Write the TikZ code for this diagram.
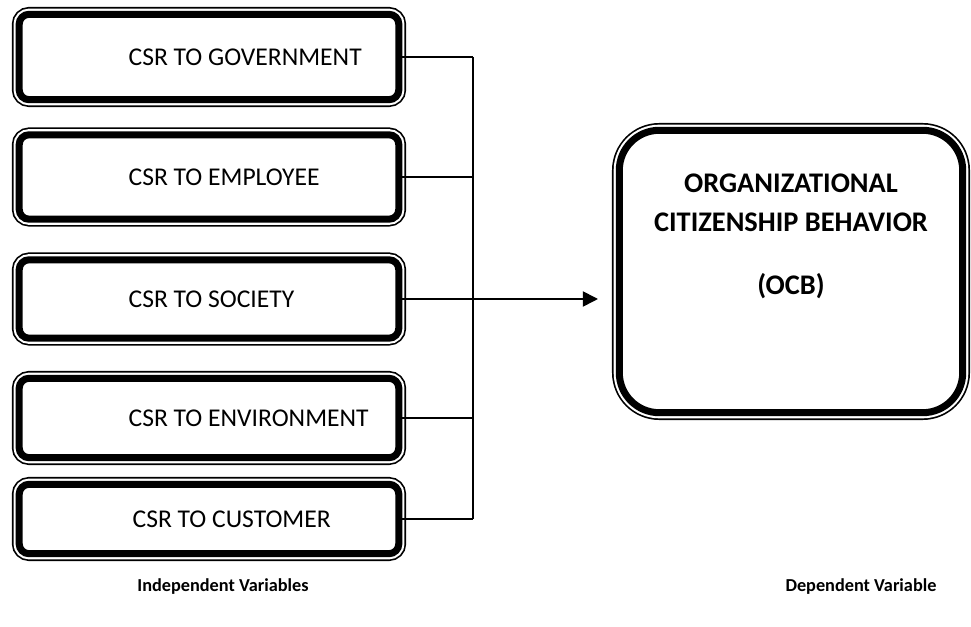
\documentclass[tikz,border=0pt]{standalone}
\usepackage{fontspec}
\setmainfont{Carlito}
\usetikzlibrary{arrows.meta,positioning,calc}

\begin{document}
\begin{tikzpicture}[
    >=Triangle,
    csrbox/.style={rounded corners=7pt, fill=white, draw=black, line width=5pt,
        minimum width=9.49cm,
        preaction={draw=black, line width=10.4pt},
        preaction={draw=white, line width=8pt}},
    boxtext/.style={anchor=west, xshift=2.7cm, font=\fontsize{18.2}{21}\selectfont},
    ocbbox/.style={csrbox, rounded corners=1cm, minimum width=8.585cm, minimum height=7.06cm,
        align=center, font=\fontsize{20.2}{27.7}\selectfont\bfseries},
    caption/.style={font=\fontsize{13}{15}\selectfont\bfseries},
    link/.style={draw=black, line width=1.2pt},
    flow/.style={link, -{Triangle[length=0.38cm, width=0.38cm]}, shorten >=0.445cm},
]
\path[use as bounding box] (0,0) rectangle (24.275,15.675);

\node[csrbox, minimum height=2.135cm, label={[boxtext]west:CSR TO GOVERNMENT}] (gov) at (5.225,14.25) {};
\node[csrbox, minimum height=2.11cm, label={[boxtext]west:CSR TO EMPLOYEE}] (emp) at (5.225,11.25) {};
\node[csrbox, minimum height=1.96cm, label={[boxtext]west:CSR TO SOCIETY}] (soc) at (5.225,8.2) {};
\node[csrbox, minimum height=1.985cm, label={[boxtext]west:CSR TO ENVIRONMENT}] (env) at (5.225,5.225) {};
\node[csrbox, minimum height=1.735cm, label={[boxtext, xshift=0.1cm]west:CSR TO CUSTOMER}] (cust) at (5.225,2.7) {};

\node[ocbbox, text depth=1.88cm] (ocb) at (19.775,8.8875)
    {ORGANIZATIONAL\\CITIZENSHIP BEHAVIOR\\[0.6cm](OCB)};

\node[caption] (indep) at (5.575,1.0) {Independent Variables};
\node[caption] (dep) at (21.525,1.0) {Dependent Variable};

\coordinate (bus) at (11.825,8.2);
\foreach \n in {gov,emp,soc,env,cust}
    \draw[link] (\n.east) -- (\n.east -| bus);
\draw[link] (gov.east -| bus) -- (cust.east -| bus);
\draw[flow] (soc.east -| bus) -- (soc.east -| ocb.west);
\end{tikzpicture}
\end{document}
